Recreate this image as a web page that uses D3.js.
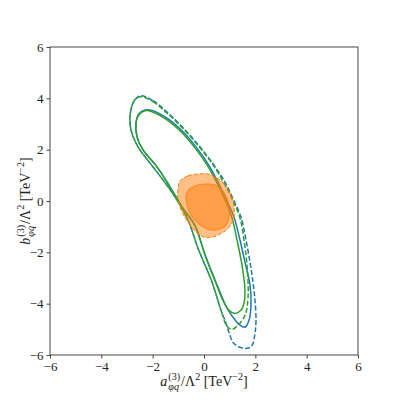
<!DOCTYPE html>
<html><head><meta charset="utf-8">
<script src="https://cdn.jsdelivr.net/npm/d3@7"></script>
<style>body{margin:0;background:#fff}svg{display:block}
.tick text{font-family:'Liberation Serif','DejaVu Serif',serif !important;}</style>
</head><body><svg id="c" width="399" height="399"></svg>
<script>
const xTicks = [-6,-4,-2,0,2,4,6];
const yTicks = [-6,-4,-2,0,2,4,6];

const greenOuter = [[-2.454,4.06],[-1.987,3.87],[-1.325,3.32],[-0.701,2.70],[-0.156,2.07],[0.351,1.41],[0.779,0.70],[1.110,0.04],[1.402,-0.66],[1.558,-1.52],[1.675,-2.50],[1.714,-3.79],[1.597,-4.45],[1.325,-4.84],[1.091,-5.00],[0.896,-4.88],[0.701,-4.38],[0.312,-3.16],[-0.234,-1.84],[-0.623,-0.74],[-1.130,0.16],[-1.597,0.82],[-2.104,1.48],[-2.571,2.11],[-2.844,2.77],[-2.883,3.28],[-2.805,3.71],[-2.688,3.95]];
const greenInner = [[-2.298,3.52],[-2.026,3.48],[-1.441,3.16],[-0.857,2.66],[-0.351,2.07],[0.117,1.41],[0.506,0.70],[0.818,0.04],[1.091,-0.66],[1.286,-1.52],[1.480,-2.50],[1.597,-3.48],[1.558,-3.98],[1.441,-4.26],[1.208,-4.38],[0.974,-4.26],[0.701,-3.79],[0.545,-3.40],[0.039,-2.11],[-0.351,-0.94],[-0.857,-0.23],[-1.325,0.55],[-1.831,1.33],[-2.376,1.99],[-2.610,2.50],[-2.649,3.05],[-2.532,3.36]];
const blueOuter = [[-2.454,4.10],[-1.987,3.91],[-1.325,3.36],[-0.701,2.73],[-0.156,2.11],[0.351,1.45],[0.818,0.74],[1.150,0.04],[1.441,-0.63],[1.636,-1.52],[1.792,-2.38],[1.909,-3.16],[1.987,-3.87],[2.026,-4.65],[1.987,-5.16],[1.870,-5.63],[1.675,-5.74],[1.402,-5.70],[1.130,-5.51],[0.974,-5.12],[0.818,-4.65],[0.662,-4.26],[0.312,-3.16],[-0.234,-1.84],[-0.623,-0.74],[-1.130,0.16],[-1.597,0.82],[-2.104,1.48],[-2.571,2.11],[-2.844,2.77],[-2.883,3.28],[-2.805,3.71],[-2.688,3.95]];
const blueInner = [[-2.298,3.55],[-1.987,3.52],[-1.402,3.20],[-0.818,2.70],[-0.312,2.11],[0.156,1.45],[0.545,0.74],[0.876,0.04],[1.169,-0.63],[1.402,-1.52],[1.597,-2.38],[1.792,-3.28],[1.831,-4.06],[1.753,-4.65],[1.597,-4.92],[1.402,-4.84],[1.130,-4.53],[0.857,-4.10],[0.623,-3.55],[0.078,-2.19],[-0.351,-0.98],[-0.857,-0.23],[-1.325,0.55],[-1.831,1.33],[-2.376,1.99],[-2.610,2.50],[-2.649,3.05],[-2.532,3.40]];
const orangeOuter = [[-0.935,0.78],[-0.623,0.98],[-0.234,1.05],[0.156,1.05],[0.506,0.90],[0.818,0.63],[1.052,0.23],[1.169,-0.20],[1.169,-0.59],[1.013,-0.98],[0.701,-1.25],[0.312,-1.41],[0.0,-1.41],[-0.312,-1.21],[-0.623,-0.82],[-0.857,-0.43],[-1.013,0.04],[-1.013,0.47]];
const orangeInner = [[-0.623,0.39],[-0.351,0.59],[0.039,0.66],[0.429,0.63],[0.701,0.43],[0.896,0.12],[0.974,-0.27],[0.974,-0.66],[0.818,-0.98],[0.467,-1.13],[0.117,-1.09],[-0.234,-0.86],[-0.506,-0.55],[-0.662,-0.16],[-0.701,0.20]];

const svg = d3.select("#c");
const L=50,R=358,T=47,B=355;
const x = d3.scaleLinear().domain([-6,6]).range([L,R]);
const y = d3.scaleLinear().domain([-6,6]).range([B,T]);
const line = d3.line().x(d=>x(d[0])).y(d=>y(d[1])).curve(d3.curveCatmullRomClosed.alpha(0.5));
const FONT = "'Liberation Serif','DejaVu Serif',serif";
const BLUE="#1f77b4", GREEN="#2ca02c", ORANGE="#ff7f0e";
const LW=1.5, DASH="5,2.2";

const plot = svg.append("g");
plot.append("path").attr("d", line(blueOuter)).attr("fill","none").attr("stroke",BLUE).attr("stroke-width",LW).attr("stroke-dasharray",DASH);
plot.append("path").attr("d", line(blueInner)).attr("fill","none").attr("stroke",BLUE).attr("stroke-width",LW);
plot.append("path").attr("d", line(greenOuter)).attr("fill","none").attr("stroke",GREEN).attr("stroke-width",LW).attr("stroke-dasharray",DASH);
plot.append("path").attr("d", line(greenInner)).attr("fill","none").attr("stroke",GREEN).attr("stroke-width",LW);
plot.append("path").attr("d", line(orangeOuter)).attr("fill",ORANGE).attr("fill-opacity",0.5).attr("stroke",ORANGE).attr("stroke-width",1).attr("stroke-dasharray","4,2");
plot.append("path").attr("d", line(orangeInner)).attr("fill",ORANGE).attr("fill-opacity",0.5).attr("stroke",ORANGE).attr("stroke-width",1.2).attr("stroke-opacity",0.7);

const fmt = d => d<0 ? "\u2212"+Math.abs(d) : String(d);
const gx = svg.append("g").attr("transform",`translate(0,${B})`)
  .call(d3.axisBottom(x).tickValues(xTicks).tickSize(3.5).tickPadding(3).tickFormat(fmt));
const gy = svg.append("g").attr("transform",`translate(${L},0)`)
  .call(d3.axisLeft(y).tickValues(yTicks).tickSize(3.5).tickPadding(3).tickFormat(fmt));
[gx,gy].forEach(g=>{
  g.attr("font-family",FONT).attr("font-size",13);
  g.select(".domain").remove();
  g.selectAll(".tick line").attr("stroke","#333").attr("stroke-width",0.9);
  g.selectAll(".tick text").style("font-family",FONT).style("font-size","13px").attr("fill","#222");
});
svg.append("rect").attr("x",L).attr("y",T).attr("width",R-L).attr("height",B-T)
  .attr("fill","none").attr("stroke","#333").attr("stroke-width",0.9);

function mathLabel(g, pieces, fs){
  const t = g.append("text").style("font-family",FONT).attr("font-size",fs).attr("fill","#222");
  let xpos = 0;
  pieces.forEach(p=>{
    if(p.stack){
      const a = t.append("tspan").attr("x",xpos).attr("y",-fs*0.42).attr("font-size",fs*0.72).text(p.sup);
      const w1 = a.node().getComputedTextLength();
      const b = t.append("tspan").attr("x",xpos).attr("y",fs*0.28).attr("font-size",fs*0.72).attr("font-style","italic").text(p.sub);
      const w2 = b.node().getComputedTextLength();
      xpos += Math.max(w1,w2)+1;
    } else {
      const yy = p.sup ? -fs*0.42 : 0;
      const s = t.append("tspan").attr("x",xpos).attr("y",yy).attr("font-size",p.sup?fs*0.72:fs)
        .attr("font-style",p.it?"italic":"normal").text(p.sup||p.t);
      xpos += s.node().getComputedTextLength() + (p.it?1:0);
    }
  });
  t.attr("transform",`translate(${-xpos/2},0)`);
}
const xl = svg.append("g").attr("transform","translate(204,386)");
mathLabel(xl,[{t:"a",it:true},{stack:true,sup:"(3)",sub:"φq"},{t:"/Λ"},{sup:"2"},{t:" [TeV"},{sup:"\u22122"},{t:"]"}],14);
const yl = svg.append("g").attr("transform","translate(30,201) rotate(-90)");
mathLabel(yl,[{t:"b",it:true},{stack:true,sup:"(3)",sub:"φq"},{t:"/Λ"},{sup:"2"},{t:" [TeV"},{sup:"\u22122"},{t:"]"}],14);
</script></body></html>
